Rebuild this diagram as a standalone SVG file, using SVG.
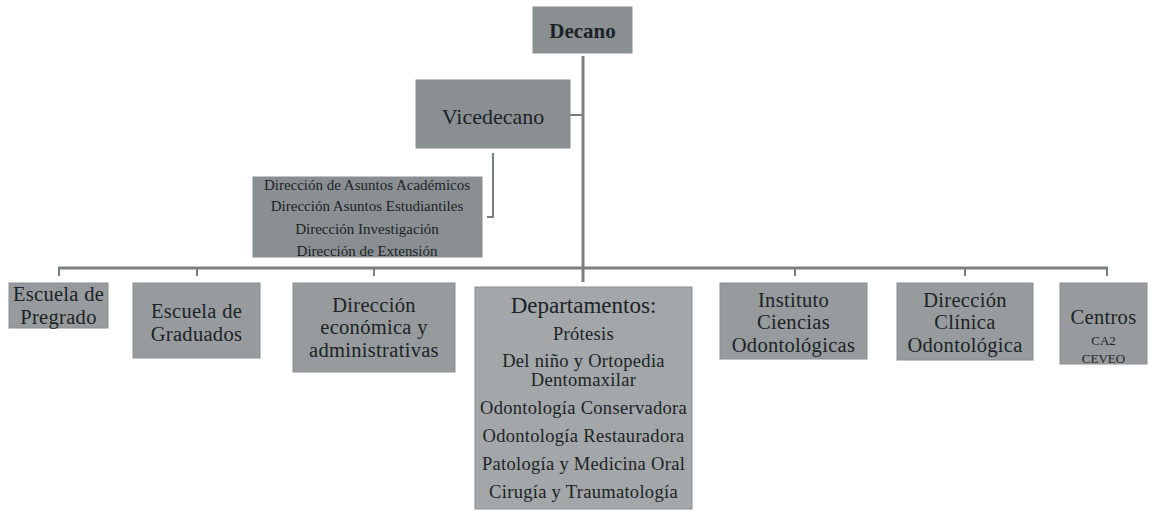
<svg xmlns="http://www.w3.org/2000/svg" width="1153" height="514" viewBox="0 0 1153 514">
<style>
.box{fill:#979b9d;stroke:#8a8e90;stroke-width:1}
.dark{fill:#8a9092}
.light{fill:#a3a7a9}
.t{font-family:"Liberation Serif",serif;fill:#1c2326;text-anchor:middle;dominant-baseline:central}
.l{font-size:20.5px;letter-spacing:0.3px}
.s{font-size:18.5px;letter-spacing:0.3px}
.xs{font-size:15px}
.c{stroke:#7b7f82;fill:none;stroke-width:3}
.tk{stroke:#7b7f82;fill:none;stroke-width:2}
</style>
<rect width="1153" height="514" fill="#ffffff"/>
<g id="connectors">
<line class="c" x1="583" y1="56" x2="583" y2="282"/>
<line class="tk" x1="570" y1="115" x2="583" y2="115"/>
<polyline class="tk" points="493,153 493,217 487,217"/>
<line class="c" x1="58" y1="268" x2="1108" y2="268"/>
<line class="tk" x1="59" y1="268" x2="59" y2="276"/>
<line class="tk" x1="197" y1="268" x2="197" y2="276"/>
<line class="tk" x1="374" y1="268" x2="374" y2="276"/>
<line class="tk" x1="795" y1="268" x2="795" y2="276"/>
<line class="tk" x1="965" y1="268" x2="965" y2="276"/>
<line class="tk" x1="1107" y1="268" x2="1107" y2="276"/>
</g>
<g id="decano">
<rect class="box dark" x="533" y="7" width="99" height="46"/>
<text class="t" x="582.5" y="31" font-size="21" font-weight="bold">Decano</text>
</g>
<g id="vicedecano">
<rect class="box dark" x="416" y="80" width="154" height="68"/>
<text class="t" x="493" y="116" font-size="22">Vicedecano</text>
</g>
<g id="direcciones">
<rect class="box dark" x="253" y="177" width="229" height="80"/>
<text class="t xs" x="367" y="185">Dirección de Asuntos Académicos</text>
<text class="t xs" x="367" y="206">Dirección Asuntos Estudiantiles</text>
<text class="t xs" x="367" y="229">Dirección Investigación</text>
<text class="t xs" x="367" y="251">Dirección de Extensión</text>
</g>
<g id="pregrado">
<rect class="box" x="9" y="283" width="99" height="45"/>
<text class="t l" x="58.5" y="294">Escuela de</text>
<text class="t l" x="58.5" y="317">Pregrado</text>
</g>
<g id="graduados">
<rect class="box" x="133" y="283" width="127" height="75"/>
<text class="t l" x="196.5" y="311">Escuela de</text>
<text class="t l" x="196.5" y="334">Graduados</text>
</g>
<g id="economica">
<rect class="box" x="293" y="283" width="162" height="89"/>
<text class="t l" x="374" y="305">Dirección</text>
<text class="t l" x="374" y="327">económica y</text>
<text class="t l" x="374" y="350">administrativas</text>
</g>
<g id="departamentos">
<rect class="box light" x="475" y="287" width="217" height="222"/>
<text class="t" x="583.5" y="305" font-size="23">Departamentos:</text>
<text class="t s" x="583.5" y="334">Prótesis</text>
<text class="t s" x="583.5" y="361">Del niño y Ortopedia</text>
<text class="t s" x="583.5" y="380">Dentomaxilar</text>
<text class="t s" x="583.5" y="408">Odontología Conservadora</text>
<text class="t s" x="583.5" y="436">Odontología Restauradora</text>
<text class="t s" x="583.5" y="464">Patología y Medicina Oral</text>
<text class="t s" x="583.5" y="492">Cirugía y Traumatología</text>
</g>
<g id="instituto">
<rect class="box" x="720" y="283" width="147" height="76"/>
<text class="t l" x="793.5" y="300">Instituto</text>
<text class="t l" x="793.5" y="322">Ciencias</text>
<text class="t l" x="793.5" y="345">Odontológicas</text>
</g>
<g id="clinica">
<rect class="box" x="897" y="283" width="136" height="77"/>
<text class="t l" x="965" y="300">Dirección</text>
<text class="t l" x="965" y="322">Clínica</text>
<text class="t l" x="965" y="345">Odontológica</text>
</g>
<g id="centros">
<rect class="box" x="1060" y="283" width="87" height="81"/>
<text class="t l" x="1103.5" y="317">Centros</text>
<text class="t" x="1103.5" y="340" font-size="13">CA2</text>
<text class="t" x="1103.5" y="358" font-size="13">CEVEO</text>
</g>
</svg>
